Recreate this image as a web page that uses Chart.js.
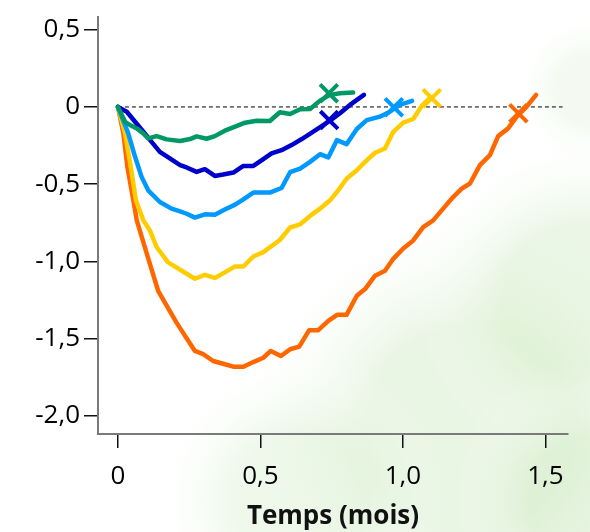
<!DOCTYPE html>
<html>
<head>
<meta charset="utf-8">
<script src="https://cdn.jsdelivr.net/npm/chart.js@4.4.1/dist/chart.umd.min.js"></script>
<style>
  html, body { margin: 0; padding: 0; background: #fff; }
  #wrap { width: 590px; height: 532px; position: relative; }
</style>
</head>
<body>
<div id="wrap"><canvas id="chart"></canvas></div>
<script>
// x = temps (mois), y = values
const greenX = [0, 0.025, 0.042, 0.066, 0.089, 0.106, 0.136, 0.171, 0.218, 0.253, 0.276, 0.311, 0.340, 0.375, 0.411, 0.446, 0.487, 0.533, 0.568, 0.604, 0.639, 0.674, 0.709, 0.744, 0.779, 0.825];
const greenY = [0, -0.096, -0.117, -0.139, -0.171, -0.204, -0.189, -0.210, -0.221, -0.208, -0.191, -0.206, -0.189, -0.154, -0.128, -0.102, -0.089, -0.091, -0.034, -0.046, -0.015, -0.013, 0.041, 0.078, 0.089, 0.093];

const navyX = [0, 0.031, 0.060, 0.089, 0.118, 0.147, 0.182, 0.218, 0.241, 0.276, 0.305, 0.340, 0.369, 0.405, 0.440, 0.475, 0.510, 0.539, 0.574, 0.609, 0.645, 0.680, 0.715, 0.744, 0.779, 0.814, 0.863];
const navyY = [0, -0.031, -0.096, -0.161, -0.226, -0.291, -0.334, -0.377, -0.392, -0.421, -0.403, -0.447, -0.438, -0.425, -0.382, -0.382, -0.338, -0.301, -0.280, -0.247, -0.208, -0.167, -0.124, -0.089, -0.041, 0.013, 0.078];

const skyX = [0, 0.036, 0.060, 0.083, 0.106, 0.147, 0.188, 0.218, 0.241, 0.270, 0.305, 0.340, 0.375, 0.411, 0.440, 0.475, 0.533, 0.574, 0.604, 0.639, 0.674, 0.709, 0.738, 0.768, 0.802, 0.838, 0.873, 0.919, 0.954, 0.989, 1.032];
const skyY = [0, -0.171, -0.323, -0.453, -0.540, -0.616, -0.659, -0.677, -0.692, -0.717, -0.696, -0.698, -0.664, -0.633, -0.599, -0.555, -0.555, -0.525, -0.423, -0.399, -0.356, -0.306, -0.327, -0.215, -0.241, -0.143, -0.085, -0.063, -0.031, 0.013, 0.039];

const yellowX = [0, 0.025, 0.045, 0.063, 0.089, 0.112, 0.136, 0.176, 0.270, 0.305, 0.340, 0.375, 0.411, 0.440, 0.475, 0.510, 0.568, 0.604, 0.639, 0.674, 0.709, 0.744, 0.773, 0.802, 0.838, 0.867, 0.902, 0.937, 0.966, 1.001, 1.036, 1.066, 1.095];
const yellowY = [0, -0.171, -0.388, -0.605, -0.735, -0.800, -0.909, -1.007, -1.113, -1.088, -1.108, -1.072, -1.033, -1.034, -0.969, -0.941, -0.862, -0.781, -0.761, -0.706, -0.659, -0.605, -0.540, -0.465, -0.410, -0.356, -0.297, -0.269, -0.161, -0.102, -0.078, 0.007, 0.059];

const orangeX = [0, 0.019, 0.033, 0.054, 0.066, 0.112, 0.141, 0.206, 0.270, 0.299, 0.334, 0.369, 0.405, 0.440, 0.475, 0.510, 0.536, 0.572, 0.604, 0.636, 0.671, 0.703, 0.738, 0.769, 0.802, 0.838, 0.867, 0.902, 0.937, 0.966, 1.001, 1.036, 1.071, 1.106, 1.141, 1.176, 1.206, 1.235, 1.270, 1.305, 1.334, 1.369, 1.399, 1.434, 1.467];
const orangeY = [0, -0.171, -0.388, -0.605, -0.735, -1.017, -1.191, -1.399, -1.581, -1.602, -1.646, -1.664, -1.683, -1.683, -1.653, -1.625, -1.581, -1.614, -1.570, -1.553, -1.446, -1.446, -1.386, -1.347, -1.347, -1.223, -1.180, -1.093, -1.061, -0.984, -0.917, -0.865, -0.779, -0.735, -0.659, -0.584, -0.529, -0.496, -0.377, -0.312, -0.189, -0.139, -0.063, 0.002, 0.078];

// the crosses, one per curve
const markerX = [0.740, 0.741, 0.968, 1.101, 1.405];
const markerY = [0.089, -0.085, -0.002, 0.057, -0.041];
const colors = ["#009966", "#0000cc", "#0099ff", "#ffcc00", "#ff6600"];

const refLineX = [0, 1.56];
const refLineY = [0, 0];

const xTicks = [0, 0.5, 1.0, 1.5];
const xTickLabels = ["0", "0,5", "1,0", "1,5"];
const yTicks = [0.5, 0, -0.5, -1.0, -1.5, -2.0];
const yTickLabels = ["0,5", "0", "-0,5", "-1,0", "-1,5", "-2,0"];

const pts = (xs, ys) => xs.map((x, i) => ({ x: x, y: ys[i] }));

const series = [
  [greenX, greenY],
  [navyX, navyY],
  [skyX, skyY],
  [yellowX, yellowY],
  [orangeX, orangeY],
];

const datasets = [];
markerX.forEach((mx, i) => {
  datasets.push({
    type: "scatter",
    data: [{ x: mx, y: markerY[i] }],
    pointStyle: "crossRot",
    pointRadius: 12.5,
    borderColor: colors[i],
    pointBorderWidth: 4,
    order: 0,
  });
});
series.forEach((s, i) => {
  datasets.push({
    type: "line",
    data: pts(s[0], s[1]),
    borderColor: colors[i],
    borderWidth: 4.5,
    pointRadius: 0,
    tension: 0,
    borderJoinStyle: "round",
    borderCapStyle: "round",
    order: 1,
  });
});
datasets.push({
  type: "line",
  data: pts(refLineX, refLineY),
  borderColor: "#000",
  borderWidth: 1,
  borderDash: [4, 3],
  pointRadius: 0,
  order: 2,
});

// faint leafy background in the lower right
const leafBg = {
  id: "leafBg",
  beforeDraw(chart) {
    const ctx = chart.ctx;
    ctx.save();
    ctx.fillStyle = "#fff";
    ctx.fillRect(0, 0, chart.width, chart.height);
    const blobs = [
      [470, 430, 230, "rgba(215,238,205,0.55)"],
      [580, 300, 170, "rgba(215,238,205,0.5)"],
      [300, 500, 150, "rgba(218,240,210,0.45)"],
      [590, 500, 140, "rgba(212,236,202,0.5)"],
      [590, 90, 80, "rgba(225,242,218,0.35)"],
    ];
    blobs.forEach((b) => {
      const g = ctx.createRadialGradient(b[0], b[1], 0, b[0], b[1], b[2]);
      g.addColorStop(0, b[3]);
      g.addColorStop(0.45, b[3]);
      g.addColorStop(1, "rgba(255,255,255,0)");
      ctx.fillStyle = g;
      ctx.fillRect(0, 0, chart.width, chart.height);
    });
    ctx.restore();
  },
};

new Chart(document.getElementById("chart"), {
  data: { datasets: datasets },
  plugins: [leafBg],
  options: {
    responsive: true,
    maintainAspectRatio: false,
    animation: false,
    layout: { padding: { top: 10, right: 22, bottom: 0, left: 0 } },
    plugins: { legend: { display: false }, tooltip: { enabled: false } },
    scales: {
      x: {
        type: "linear",
        min: -0.07,
        max: 1.579,
        afterFit: (s) => { s.height = 98; s.paddingLeft = 0; s.paddingRight = 0; },
        afterBuildTicks: (s) => { s.ticks = xTicks.map((v) => ({ value: v })); },
        grid: { drawOnChartArea: false, drawTicks: true, tickLength: 14, color: "#111", lineWidth: 1.5 },
        border: { color: "#7a7a7a", width: 2 },
        ticks: {
          color: "#000",
          padding: 13,
          maxRotation: 0,
          font: { family: "'Open Sans', sans-serif", size: 26 },
          callback: (v, i) => xTickLabels[i],
        },
        title: {
          display: true,
          text: "Temps (mois)",
          color: "#111",
          padding: 0,
          font: { family: "'Open Sans', sans-serif", size: 26, weight: "bold" },
        },
      },
      y: {
        type: "linear",
        min: -2.119,
        max: 0.586,
        afterFit: (s) => { s.width = 98; s.paddingTop = 0; s.paddingBottom = 0; },
        afterBuildTicks: (s) => { s.ticks = yTicks.map((v) => ({ value: v })); },
        grid: { drawOnChartArea: false, drawTicks: true, tickLength: 14, color: "#111", lineWidth: 1.5 },
        border: { color: "#7a7a7a", width: 2 },
        ticks: {
          color: "#000",
          padding: 4,
          font: { family: "'Open Sans', sans-serif", size: 26 },
          callback: (v, i) => yTickLabels[i],
        },
      },
    },
  },
});
</script>
</body>
</html>
